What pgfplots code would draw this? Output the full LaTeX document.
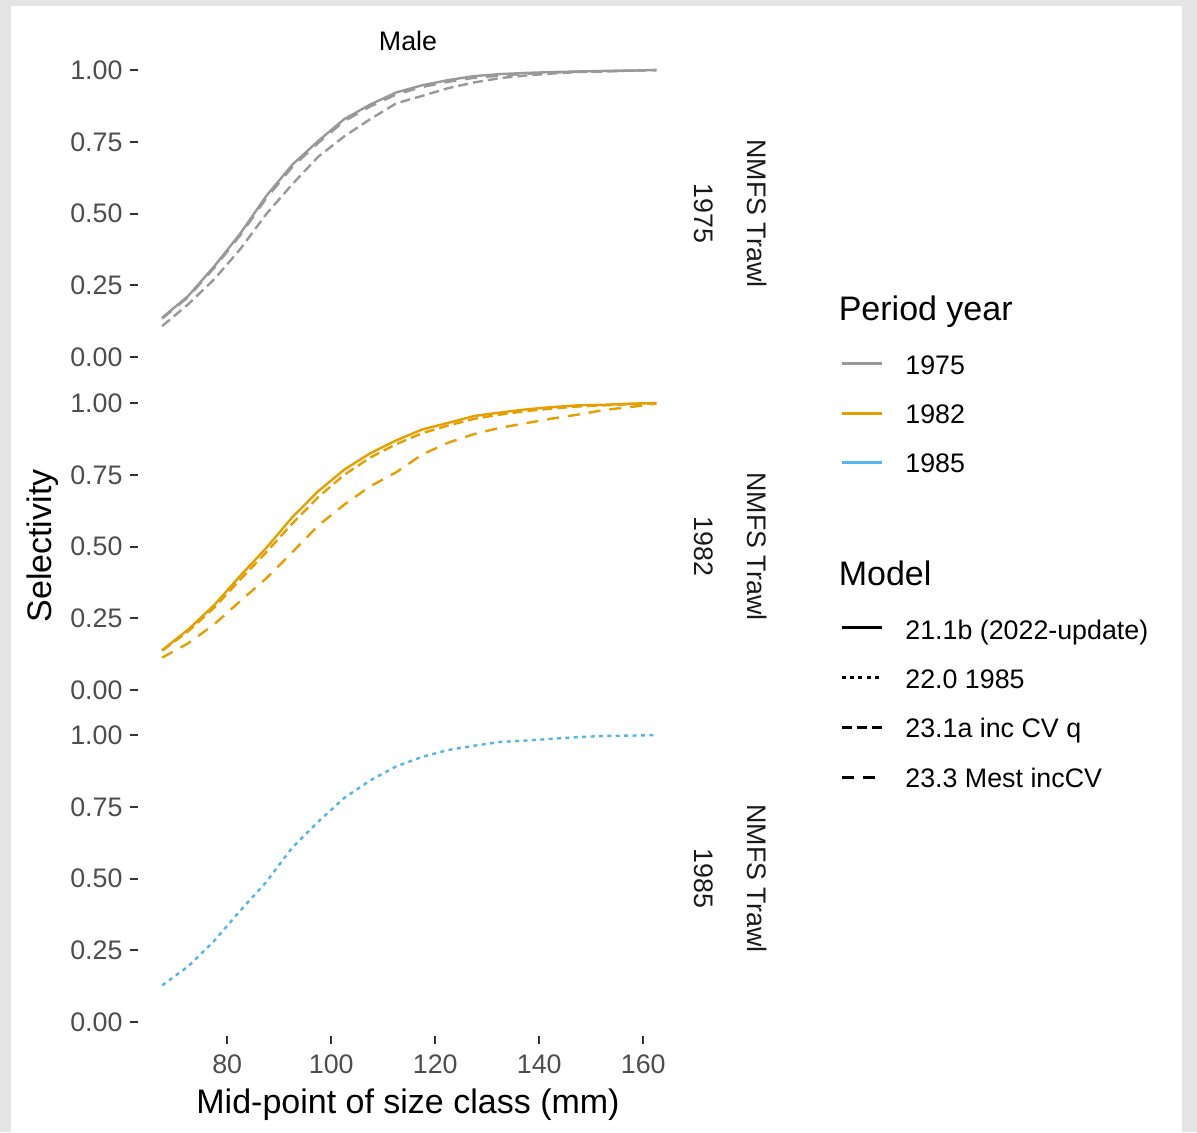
\documentclass[border=0pt]{standalone}
\usepackage{pgfplots}
\usepackage{pgfplotstable}
\pgfplotsset{compat=1.18}
\usepackage{fontspec}
\setmainfont{Liberation Sans}
\definecolor{c75}{HTML}{999999}
\definecolor{c82}{HTML}{E69F00}
\definecolor{c85}{HTML}{56B4E9}
\definecolor{tickc}{HTML}{333333}
\definecolor{labc}{HTML}{4D4D4D}
\definecolor{stripc}{HTML}{1A1A1A}
\definecolor{bgg}{HTML}{E4E4E4}
\newcommand{\fs}{\fontsize{13.4}{16}\selectfont}
\newcommand{\fl}{\fontsize{17}{20}\selectfont}

% 1975 panel: s = 21.1b, n = near dashed (23.3), d = lower dashed (23.1a)
\pgfplotstableread{
x s n d
67.5 0.137 0.134 0.108
72.5 0.213 0.209 0.184
77.5 0.316 0.311 0.271
82.5 0.430 0.424 0.376
87.5 0.561 0.553 0.498
92.5 0.670 0.662 0.602
97.5 0.753 0.746 0.698
102.5 0.829 0.822 0.769
107.5 0.880 0.873 0.829
112.5 0.922 0.915 0.884
117.5 0.947 0.941 0.910
122.5 0.965 0.959 0.937
127.5 0.979 0.973 0.957
132.5 0.986 0.981 0.972
137.5 0.990 0.987 0.981
142.5 0.993 0.991 0.988
147.5 0.995 0.994 0.993
152.5 0.997 0.996 0.995
157.5 0.998 0.998 0.998
162.5 1.000 1.000 1.000
}\tblA

% 1982 panel: s = 21.1b, n = near dashed (23.1a), d = lower dashed (23.3)
\pgfplotstableread{
x s n d
67.5 0.139 0.137 0.113
72.5 0.211 0.205 0.163
77.5 0.296 0.287 0.229
82.5 0.398 0.385 0.310
87.5 0.495 0.480 0.389
92.5 0.602 0.580 0.480
97.5 0.693 0.672 0.573
102.5 0.768 0.750 0.646
107.5 0.825 0.810 0.710
112.5 0.870 0.857 0.759
117.5 0.908 0.895 0.821
122.5 0.931 0.922 0.862
127.5 0.955 0.945 0.892
132.5 0.967 0.960 0.914
137.5 0.978 0.972 0.930
142.5 0.986 0.981 0.946
147.5 0.992 0.988 0.960
152.5 0.994 0.992 0.976
157.5 0.998 0.996 0.986
162.5 1.000 0.999 0.998
}\tblB

% 1985 panel: 22.0 1985
\pgfplotstableread{
x t
67.5 0.128
72.5 0.194
77.5 0.283
82.5 0.388
87.5 0.488
92.5 0.608
97.5 0.698
102.5 0.781
107.5 0.842
112.5 0.891
117.5 0.924
122.5 0.948
127.5 0.963
132.5 0.976
137.5 0.981
142.5 0.987
147.5 0.993
152.5 0.997
157.5 0.998
162.5 1.000
}\tblC

\tikzset{
  m211/.style={solid, line width=1.2pt},
  m220/.style={dash pattern=on 2pt off 2.2pt, line width=1.2pt},
  m231/.style={dash pattern=on 5pt off 2.5pt, line width=1.2pt},
  m233/.style={dash pattern=on 6pt off 4.5pt, line width=1.2pt},
}
\pgfplotsset{
  panel/.style={
    scale only axis, width=271.75pt, height=157.85pt,
    xmin=62.75, xmax=167.25, ymin=-0.05, ymax=1.05,
    anchor=south west,
    axis line style={draw=none},
    tick align=outside, major tick length=4pt,
    tick style={tickc, line width=1pt},
    ytick={0,0.25,0.5,0.75,1},
    yticklabels={0.00,0.25,0.50,0.75,1.00},
    ytick pos=left, xtick pos=bottom,
    tick label style={font=\fs, text=labc},
    xticklabel style={yshift=-1.5pt},
    /pgf/number format/assume math mode=true,
  },
}

\begin{document}
\begin{tikzpicture}
\path[use as bounding box] (0pt,0pt) rectangle (598.5pt,566pt);
\fill[bgg] (0pt,0pt) rectangle (598.5pt,566pt);
\fill[white] (5.5pt,0pt) rectangle (591pt,563pt);

\begin{axis}[panel, at={(68.75pt,380.3pt)}, xtick=\empty]
\addplot[c75, m233] table[x=x, y=n] {\tblA};
\addplot[c75, m231] table[x=x, y=d] {\tblA};
\addplot[c75, m211] table[x=x, y=s] {\tblA};
\end{axis}

\begin{axis}[panel, at={(68.75pt,213.8pt)}, xtick=\empty]
\addplot[c82, m233] table[x=x, y=d] {\tblB};
\addplot[c82, m231] table[x=x, y=n] {\tblB};
\addplot[c82, m211] table[x=x, y=s] {\tblB};
\end{axis}

\begin{axis}[panel, at={(68.75pt,47.8pt)}, xtick={80,100,120,140,160}]
\addplot[c85, m220] table[x=x, y=t] {\tblC};
\end{axis}

% titles
\node[anchor=base, inner sep=0pt, font=\fs] at (204pt,540.5pt) {Male};
\node[anchor=base, inner sep=0pt, font=\fl] at (204pt,9.1pt) {Mid-point of size class (mm)};
\node[rotate=90, inner sep=0pt, font=\fl] at (21.5pt,293pt) {Selectivity};

% strip labels
\foreach \yy/\lab in {459.25/1975, 292.75/1982, 126.75/1985}{
  \node[rotate=-90, inner sep=0pt, font=\fs, text=stripc] at (352pt,\yy pt) {\lab};
  \node[rotate=-90, inner sep=0pt, font=\fs, text=stripc] at (378.75pt,\yy pt) {NMFS Trawl};
}

% legend: Period year
\node[anchor=base west, inner sep=0pt, font=\fl] at (419.2pt,405.8pt) {Period year};
\draw[c75, line width=1.2pt] (420.8pt,384.2pt) -- (440.8pt,384.2pt);
\draw[c82, line width=1.2pt] (420.8pt,359.2pt) -- (440.8pt,359.2pt);
\draw[c85, line width=1.2pt] (420.8pt,334.7pt) -- (440.8pt,334.7pt);
\node[anchor=base west, inner sep=0pt, font=\fs] at (452.5pt,378.8pt) {1975};
\node[anchor=base west, inner sep=0pt, font=\fs] at (452.5pt,354.2pt) {1982};
\node[anchor=base west, inner sep=0pt, font=\fs] at (452.5pt,329.7pt) {1985};

% legend: Model
\node[anchor=base west, inner sep=0pt, font=\fl] at (419.2pt,273.5pt) {Model};
\draw[black, m211] (420.8pt,252.3pt) -- (440.8pt,252.3pt);
\draw[black, m220] (420.8pt,227.2pt) -- (440.8pt,227.2pt);
\draw[black, m231] (420.8pt,202.2pt) -- (440.8pt,202.2pt);
\draw[black, m233] (420.8pt,177.2pt) -- (440.8pt,177.2pt);
\node[anchor=base west, inner sep=0pt, font=\fs] at (452.5pt,246.5pt) {21.1b (2022-update)};
\node[anchor=base west, inner sep=0pt, font=\fs] at (452.5pt,221.8pt) {22.0 1985};
\node[anchor=base west, inner sep=0pt, font=\fs] at (452.5pt,197.2pt) {23.1a inc CV q};
\node[anchor=base west, inner sep=0pt, font=\fs] at (452.5pt,172.2pt) {23.3 Mest incCV};
\end{tikzpicture}
\end{document}
